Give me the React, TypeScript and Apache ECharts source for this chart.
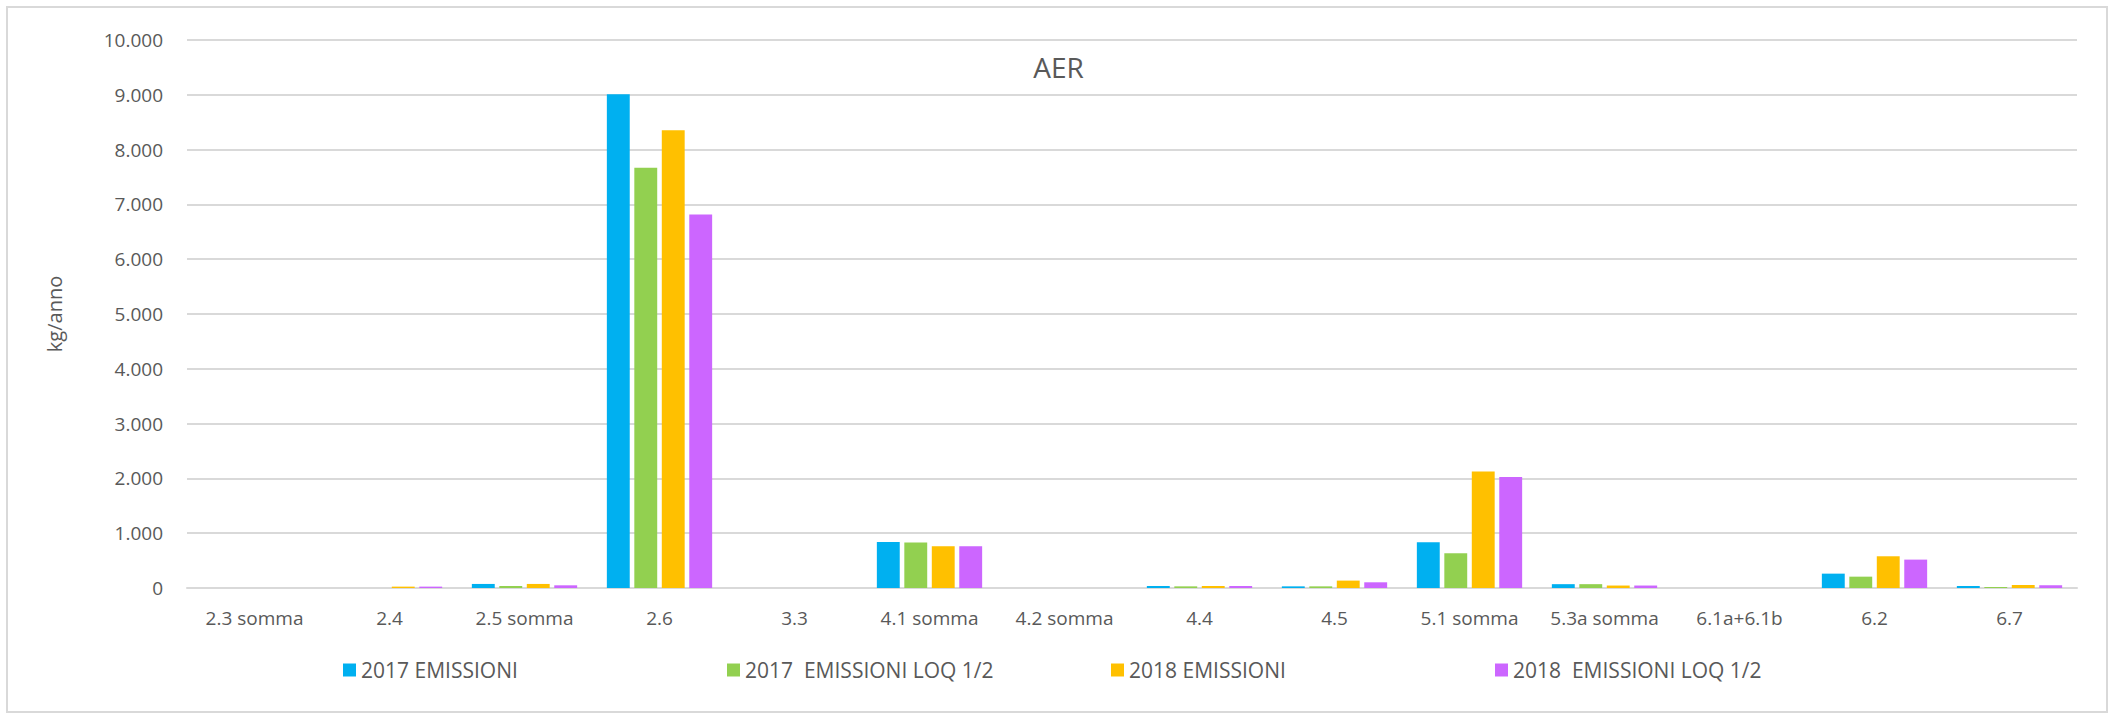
import React, { useEffect, useRef } from "react";
import * as echarts from "echarts";

const categories = [
  "2.3 somma", "2.4", "2.5 somma", "2.6", "3.3", "4.1 somma", "4.2 somma",
  "4.4", "4.5", "5.1 somma", "5.3a somma", "6.1a+6.1b", "6.2", "6.7",
];
const emissioni2017 = [0, 0, 74, 9010, 0, 838, 0, 37, 30, 835, 70, 0, 262, 37];
const loq2017 = [0, 0, 37, 7671, 0, 831, 0, 30, 30, 634, 70, 0, 207, 18];
const emissioni2018 = [0, 25, 74, 8351, 0, 762, 0, 37, 135, 2128, 45, 0, 579, 55];
const loq2018 = [0, 25, 49, 6815, 0, 762, 0, 37, 104, 2024, 45, 0, 518, 49];

const seriesNames = [
  "2017 EMISSIONI",
  "2017  EMISSIONI LOQ 1/2",
  "2018 EMISSIONI",
  "2018  EMISSIONI LOQ 1/2",
];
const seriesColors = ["#00B0F0", "#92D050", "#FFC000", "#CC66FF"];
const seriesData = [emissioni2017, loq2017, emissioni2018, loq2018];

const FONT = "Open Sans";
const TEXT = "#595959";
const GRID = "#d9d9d9";

function fmt(v: number): string {
  return String(Math.round(v)).replace(/\B(?=(\d{3})+(?!\d))/g, ".");
}

export default function App() {
  const ref = useRef<HTMLDivElement>(null);
  useEffect(() => {
    document.body.style.margin = "0";
    const chart = echarts.init(ref.current!, null, { renderer: "svg" });
    chart.setOption({
      animation: false,
      backgroundColor: "#ffffff",
      textStyle: { fontFamily: FONT },
      title: {
        text: "AER",
        left: "center",
        top: 48,
        textStyle: { fontFamily: FONT, fontSize: 28, fontWeight: "normal", color: TEXT },
      },
      graphic: [
        {
          type: "rect",
          shape: { x: 7, y: 7, width: 2100, height: 705 },
          style: { fill: "none", stroke: GRID, lineWidth: 2 },
          silent: true,
        },
      ],
      legend: {
        left: 338,
        top: 652,
        itemWidth: 13,
        itemHeight: 13,
        itemGap: 10,
        icon: "rect",
        data: seriesNames,
        textStyle: {
          fontFamily: FONT,
          fontSize: 21,
          color: TEXT,
          width: 356,
          lineHeight: 26,
          padding: [0, 0, 0, 0],
        },
      },
      grid: { left: 187, right: 40, top: 40, bottom: 127, containLabel: false },
      xAxis: {
        type: "category",
        data: categories,
        axisLine: { show: true, lineStyle: { color: GRID, width: 2 } },
        axisTick: { show: false },
        axisLabel: { color: TEXT, fontFamily: FONT, fontSize: 19, margin: 20, interval: 0 },
      },
      yAxis: {
        type: "value",
        min: 0,
        max: 10000,
        interval: 1000,
        name: "kg/anno",
        nameLocation: "middle",
        nameGap: 123,
        nameTextStyle: { color: TEXT, fontFamily: FONT, fontSize: 20 },
        axisLine: { show: false },
        axisTick: { show: false },
        splitLine: { lineStyle: { color: GRID, width: 2 } },
        axisLabel: {
          color: TEXT,
          fontFamily: FONT,
          fontSize: 19,
          margin: 24,
          formatter: (v: number) => fmt(v),
        },
      },
      series: seriesNames.map((name, i) => ({
        name,
        type: "bar",
        data: seriesData[i],
        barGap: "20%",
        barCategoryGap: "22%",
        itemStyle: { color: seriesColors[i] },
      })),
    });
    return () => chart.dispose();
  }, []);
  return (
    <div
      ref={ref}
      style={{ position: "absolute", left: 0, top: 0, width: 2117, height: 715 }}
    />
  );
}
